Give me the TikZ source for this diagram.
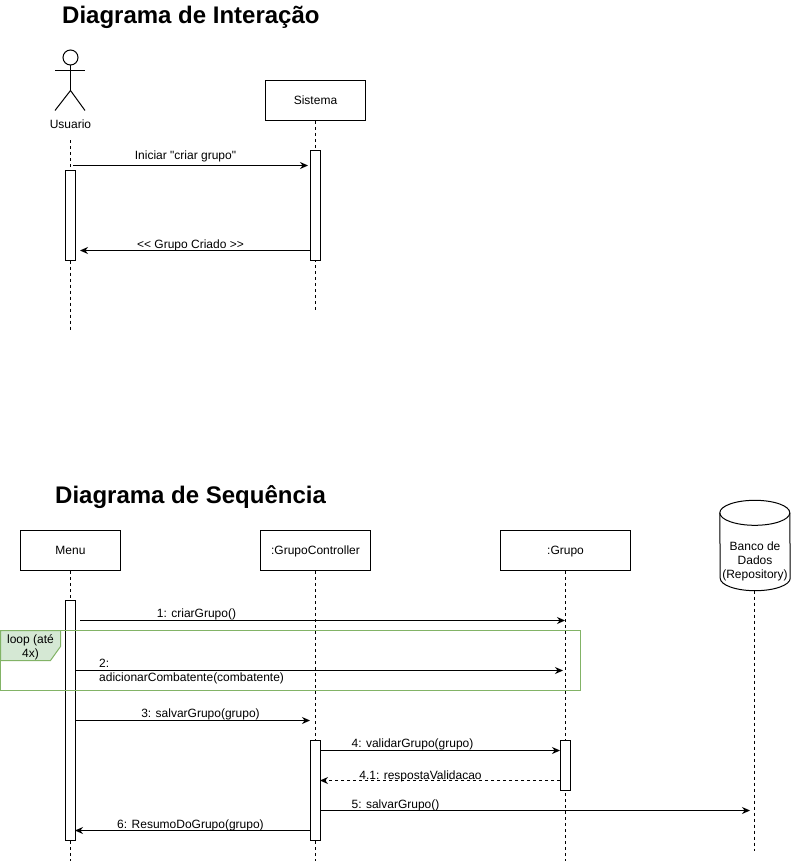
\documentclass[tikz,border=0pt]{standalone}
\usepackage{fontspec}
\newfontfamily\labelfont{Liberation Sans}
\usetikzlibrary{arrows.meta}
\definecolor{loopline}{HTML}{82B366}
\definecolor{loopfill}{HTML}{D5E8D4}
\tikzset{
	box/.style = {draw, fill = white, line width = 1pt, inner sep = 0pt, text height = 10pt, text depth = 2pt, font = \labelfont\fontsize{12}{14}\selectfont},
	bar/.style = {draw, fill = white, line width = 1pt, inner sep = 0pt, minimum width = 10pt},
	life/.style = {line width = 1pt, dash pattern = on 3pt off 3pt},
	msg/.style = {line width = 1pt, -{Stealth[length = 8pt, width = 7pt]}},
	reply/.style = {msg, dash pattern = on 3pt off 3pt},
	lbl/.style = {inner sep = 0pt, text height = 10pt, text depth = 2pt, font = \labelfont\fontsize{12}{14}\selectfont},
	lines/.style = {inner sep = 0pt, font = \labelfont\fontsize{12}{14}\selectfont},
	heading/.style = {anchor = west, inner sep = 0pt, text height = 18pt, text depth = 5pt, font = \labelfont\fontsize{24}{28}\selectfont\bfseries}
}
\begin{document}
\begin{tikzpicture}[x = 1pt, y = -1pt]
	\useasboundingbox (0, -0.5) rectangle (791, 860.5);
	% Diagrama de Interacao
	\node[heading] (titleA) at (62, 16.5) {Diagrama de Interação};
	\node[draw, circle, line width = 1pt, minimum size = 15pt, inner sep = 0pt] (head) at (70.5, 57) {};
	\coordinate (hip) at (70.5, 90);
	\coordinate (armL) at (55, 70);
	\coordinate (armR) at (85, 70);
	\coordinate (footL) at (55, 110);
	\coordinate (footR) at (85, 110);
	\draw[line width = 1pt] (head.south) -- (hip);
	\draw[line width = 1pt] (armL) -- (armR);
	\draw[line width = 1pt] (footL) -- (hip) -- (footR);
	\node[lbl] (usuario) at (70.5, 124) {Usuario};
	\coordinate (usuarioTop) at (70.5, 140);
	\coordinate (usuarioEnd) at (70.5, 330);
	\draw[life] (usuarioTop) -- (usuarioEnd);
	\node[box, minimum width = 100pt, minimum height = 40pt] (sistema) at (315.5, 100) {Sistema};
	\coordinate (sistemaEnd) at (315.5, 310);
	\draw[life] (sistema) -- (sistemaEnd);
	\node[bar, minimum height = 90pt] (barUsuario) at (70.5, 215) {};
	\node[bar, minimum height = 110pt] (barSistema) at (315.5, 205) {};
		\coordinate (iniciarA) at (73, 165);
		\coordinate (iniciarB) at (308, 165);
	\draw[msg] (iniciarA) -- (iniciarB);
		\node[lbl] (iniciar) at (185.5, 155) {Iniciar "criar grupo"};
		\coordinate (criadoA) at (310, 250);
		\coordinate (criadoB) at (80, 250);
	\draw[msg] (criadoA) -- (criadoB);
		\node[lbl] (criado) at (190.5, 244) {<< Grupo Criado >>};
	% Diagrama de Sequencia
	\node[heading] (titleB) at (55, 496.5) {Diagrama de Sequência};
	\node[box, minimum width = 100pt, minimum height = 40pt] (menu) at (70.5, 550) {Menu};
	\node[box, minimum width = 110pt, minimum height = 40pt] (controller) at (315.5, 550) {:GrupoController};
	\node[box, minimum width = 130pt, minimum height = 40pt] (grupo) at (565.5, 550) {:Grupo};
	\node[minimum width = 70pt, minimum height = 90pt, inner sep = 0pt] (banco) at (755, 545) {};
	\draw[line width = 1pt, fill = white] (banco.north west) ++(0, 12.5)
		arc[start angle = 180, end angle = 0, x radius = 35pt, y radius = 12.5pt]
		-- ([yshift = 12.5pt]banco.south east)
		arc[start angle = 0, end angle = -180, x radius = 35pt, y radius = 12.5pt]
		-- cycle;
	\draw[line width = 1pt] (banco.north west) ++(0, 12.5)
		arc[start angle = 180, end angle = 360, x radius = 35pt, y radius = 12.5pt];
	\node[lines, align = center] (bancoText) at (755, 560.5) {Banco de\\Dados\\(Repository)};
	\coordinate (menuEnd) at (70.5, 860);
	\coordinate (controllerEnd) at (315.5, 860);
	\coordinate (grupoEnd) at (565.5, 860);
	\coordinate (bancoEnd) at (754.5, 850);
	\draw[life] (menu) -- (menuEnd);
	\draw[life] (controller) -- (controllerEnd);
	\draw[life] (grupo) -- (grupoEnd);
	\draw[life] (banco.south -| bancoEnd) -- (bancoEnd);
	\node[bar, minimum height = 240pt] (barMenu) at (70.5, 720) {};
	\node[bar, minimum height = 100pt] (barController) at (315.5, 790) {};
	\node[bar, minimum height = 50pt] (barGrupo) at (565.5, 765) {};
	% loop
	\coordinate (loopA) at (0.5, 630);
	\coordinate (loopB) at (580.5, 690);
	\draw[loopline, line width = 1pt] (loopA) rectangle (loopB);
	\draw[loopline, fill = loopfill, line width = 1pt] (0.5, 630) -- (60.5, 630) -- (60.5, 646) -- (50.5, 660) -- (0.5, 660) -- cycle;
		\node[lines, align = center] (loopText) at (30.5, 646.5) {loop (até\\4x)};
	% mensagens
		\coordinate (m1a) at (80, 620);
		\coordinate (m1b) at (565, 620);
	\draw[msg] (m1a) -- (m1b);
		\node[lbl] (m1) at (196.5, 613) {1: criarGrupo()};
		\coordinate (m2a) at (75, 670);
		\coordinate (m2b) at (563, 670);
	\draw[msg] (m2a) -- (m2b);
		\node[lines, align = left, anchor = west] (m2) at (99, 671.5) {2:\\adicionarCombatente(combatente)};
		\coordinate (m3a) at (75, 720);
		\coordinate (m3b) at (310, 720);
	\draw[msg] (m3a) -- (m3b);
		\node[lbl] (m3) at (200.5, 713) {3: salvarGrupo(grupo)};
		\coordinate (m4a) at (320, 750);
		\coordinate (m4b) at (560, 750);
	\draw[msg] (m4a) -- (m4b);
		\node[lbl] (m4) at (412.5, 743) {4: validarGrupo(grupo)};
		\coordinate (m41a) at (560, 780);
		\coordinate (m41b) at (320, 780);
	\draw[reply] (m41a) -- (m41b);
		\node[lbl] (m41) at (420.5, 775) {4.1: respostaValidacao};
		\coordinate (m5a) at (320, 810);
		\coordinate (m5b) at (750, 810);
	\draw[msg] (m5a) -- (m5b);
		\node[lbl] (m5) at (395.5, 804) {5: salvarGrupo()};
		\coordinate (m6a) at (310, 830);
		\coordinate (m6b) at (75, 830);
	\draw[msg] (m6a) -- (m6b);
		\node[lbl] (m6) at (190.5, 824) {6: ResumoDoGrupo(grupo)};
\end{tikzpicture}
\end{document}
